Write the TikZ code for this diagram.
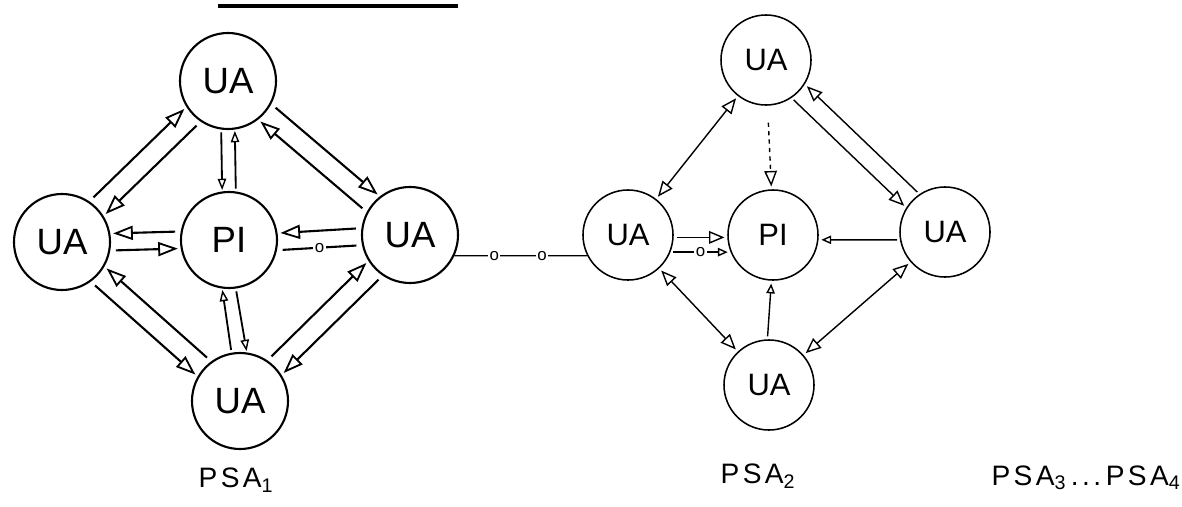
\documentclass[tikz,border=0pt]{standalone}
\usepackage{fontspec}
\setmainfont{Liberation Sans}
\newfontfamily\lblfont[LetterSpace=12]{Liberation Sans}
\usetikzlibrary{arrows.meta,calc}
\begin{document}
\begin{tikzpicture}[x=0.025cm,y=-0.025cm,
  bignode/.style={circle,draw,line width=1.5pt,minimum size=2.4cm,inner sep=0pt,font=\fontsize{26}{28}\selectfont},
  smallnode/.style={circle,draw,line width=1.1pt,minimum size=2.25cm,inner sep=0pt,font=\fontsize{22}{24}\selectfont},
  bigarr/.style={line width=1.5pt,-{Triangle[open,length=14pt,width=10pt,line width=1.3pt]},shorten >=2pt,shorten <=4pt},
  tinyarr/.style={line width=1.3pt,-{Triangle[open,length=8pt,width=6pt,line width=1pt]},shorten >=1pt,shorten <=2pt},
  arr/.style={line width=1pt,-{Triangle[open,length=11pt,width=9pt]},shorten >=2pt,shorten <=2pt},
  smallarr/.style={line width=1pt,-{Triangle[open,length=7pt,width=6pt]},shorten >=2pt,shorten <=2pt},
  dbl/.style={line width=1pt,{Triangle[open,length=11pt,width=9pt]}-{Triangle[open,length=11pt,width=9pt]},shorten >=2pt,shorten <=2pt},
  omark/.style={fill=white,inner sep=1pt,font=\fontsize{12}{12}\selectfont},
  lbl/.style={font=\lblfont\fontsize{20}{22}\selectfont}
]
\useasboundingbox (0,0) rectangle (1182,506);

% partial title underline
\draw[line width=2.2pt] (218,6) -- (458,6);

% ---------- PSA 1 ----------
\node[bignode] (T) at (228,81) {UA};
\node[bignode] (L) at (62,242) {UA};
\node[bignode] (P) at (229,240) {PI};
\node[bignode] (R) at (410,235) {UA};
\node[bignode] (B) at (240,401) {UA};

% L <-> T
\draw[bigarr] (L.56) -- (T.212);
\draw[bigarr] (T.236) -- (L.32);
% T <-> P
\draw[tinyarr] (T.262) -- (P.98);
\draw[tinyarr] (P.82) -- (T.278);
% T <-> R
\draw[bigarr] (T.-28) -- (R.128);
\draw[bigarr] (R.152) -- (T.-52);
% L <-> P
\draw[bigarr] (P.170) -- (L.10);
\draw[bigarr] (L.-10) -- (P.190);
% R -> P
\draw[bigarr] (R.172) -- (P.8);
\draw[line width=1.5pt,shorten >=4pt,shorten <=4pt] (P.-12) -- node[omark]{o} (R.192);
% L <-> B
\draw[bigarr] (B.126) -- (L.-30);
\draw[bigarr] (L.-54) -- (B.150);
% P <-> B
\draw[tinyarr] (B.100) -- (P.262);
\draw[tinyarr] (P.278) -- (B.82);
% B <-> R
\draw[bigarr] (B.56) -- (R.212);
\draw[bigarr] (R.236) -- (B.32);

\node[lbl] (psa1) at (236,480) {PSA\textsubscript{1}};

% ---------- PSA 2 ----------
\node[smallnode] (L2) at (628,235) {UA};
\node[smallnode] (P2) at (773,235) {PI};
\node[smallnode] (T2) at (766,60) {UA};
\node[smallnode] (R2) at (945,232) {UA};
\node[smallnode] (B2) at (769,385) {UA};

% link between the two groups
\draw[line width=1pt] (R.-25) -- node[omark,pos=0.3]{o} node[omark,pos=0.66]{o} (L2.207);

\draw[dbl] (L2.52) -- (T2.232);
\draw[arr,dashed,shorten <=12pt] (T2.272) -- (P2.92);
\draw[arr] (R2.124) -- (T2.-32);
\draw[arr] (T2.-56) -- (R2.148);
\draw[arr] (L2.-3) -- (P2.183);
\draw[smallarr] (L2.-22) -- node[omark]{o} (P2.202);
\draw[smallarr] (R2.190) -- (P2.-6);
\draw[smallarr] (B2.92) -- (P2.268);
\draw[dbl] (L2.-47) -- (B2.133);
\draw[dbl] (R2.221) -- (B2.41);

\node[lbl] (psa2) at (758,476) {PSA\textsubscript{2}};
\node[lbl] (psa34) at (1086,478) {PSA\textsubscript{3}\,...\,PSA\textsubscript{4}};
\end{tikzpicture}
\end{document}
